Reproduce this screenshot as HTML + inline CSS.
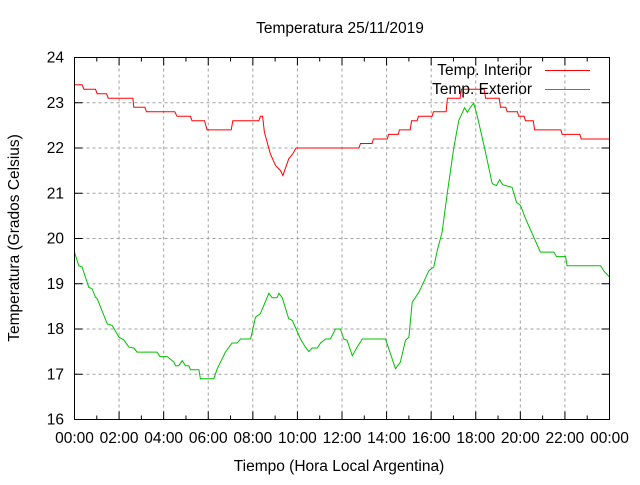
<!DOCTYPE html>
<html><head><meta charset="utf-8"><style>
body{margin:0;background:#fff;width:640px;height:480px;overflow:hidden}
svg text{font-family:"Liberation Sans",sans-serif;font-size:15.5px;fill:#000}
</style></head><body>
<svg id="chart" width="640" height="480" viewBox="0 0 640 480" xmlns="http://www.w3.org/2000/svg">
<text x="340" y="33" text-anchor="middle">Temperatura 25/11/2019</text>
<text x="339" y="471" text-anchor="middle">Tiempo (Hora Local Argentina)</text>
<text x="0" y="0" text-anchor="middle" transform="translate(19,238) rotate(-90)">Temperatura (Grados Celsius)</text>
<g id="grid"></g>
<g id="series"></g>
<rect x="74.5" y="57.5" width="535" height="362" fill="none" stroke="#000" stroke-width="1"/>
<g id="axes"></g>
<g>
<text x="532" y="75" text-anchor="end">Temp. Interior</text>
<line x1="545" y1="70.5" x2="590" y2="70.5" stroke="#ff0000"/>
<text x="532" y="94" text-anchor="end">Temp. Exterior</text>
<line x1="545" y1="89.5" x2="590" y2="89.5" stroke="#00c000"/>
</g>
</svg>
<script>
const xTickLabels=["00:00","02:00","04:00","06:00","08:00","10:00","12:00","14:00","16:00","18:00","20:00","22:00","00:00"];
const yTicks=[16,17,18,19,20,21,22,23,24];
const redHours=[0,0.34,0.42,0.94,1.02,1.44,1.51,2.62,2.66,3.16,3.23,4.5,4.6,5.2,5.27,5.83,5.95,7.03,7.1,8.27,8.34,8.44,8.52,8.79,9.02,9.24,9.35,9.61,9.79,9.94,12.76,12.83,13.35,13.41,14.03,14.09,14.52,14.58,15.06,15.12,15.37,15.43,16.04,16.1,16.67,16.73,17.3,17.36,18.38,18.44,19.05,19.11,19.35,19.41,19.87,19.93,20.17,20.23,20.58,20.64,21.82,21.88,22.67,22.73,24];
const redTemps=[23.4,23.4,23.3,23.3,23.2,23.2,23.1,23.1,22.9,22.9,22.8,22.8,22.7,22.7,22.6,22.6,22.4,22.4,22.6,22.6,22.7,22.7,22.35,21.87,21.61,21.5,21.39,21.76,21.87,22.0,22.0,22.1,22.1,22.2,22.2,22.3,22.3,22.4,22.4,22.6,22.6,22.7,22.7,22.8,22.8,23.1,23.1,23.3,23.3,23.1,23.1,22.9,22.9,22.8,22.8,22.7,22.7,22.6,22.6,22.4,22.4,22.3,22.3,22.2,22.2];
const greenHours=[0,0.19,0.34,0.64,0.79,0.94,1.02,1.47,1.69,1.99,2.21,2.44,2.66,2.81,3.71,3.83,4.16,4.46,4.53,4.68,4.83,4.98,5.13,5.2,5.58,5.65,6.25,6.4,6.77,7.07,7.3,7.45,7.9,8.12,8.34,8.72,8.87,9.09,9.17,9.32,9.61,9.77,10.14,10.36,10.51,10.66,10.89,11.04,11.26,11.48,11.71,11.93,12.08,12.23,12.46,12.68,12.91,13.95,14.4,14.62,14.85,15.0,15.15,15.45,15.9,16.12,16.27,16.49,16.72,17.02,17.24,17.5,17.62,17.76,17.91,18.06,18.39,18.74,18.93,19.07,19.21,19.63,19.83,20.01,20.23,20.9,21.5,21.62,22.03,22.1,23.6,23.75,23.94,24];
const greenTemps=[19.7,19.4,19.37,18.92,18.89,18.7,18.67,18.11,18.08,17.82,17.76,17.6,17.58,17.49,17.49,17.39,17.39,17.27,17.19,17.19,17.3,17.19,17.19,17.1,17.1,16.9,16.9,17.12,17.49,17.69,17.69,17.78,17.78,18.26,18.34,18.79,18.69,18.69,18.79,18.69,18.23,18.19,17.78,17.6,17.5,17.58,17.58,17.69,17.78,17.78,18.0,18.0,17.78,17.75,17.41,17.6,17.78,17.78,17.12,17.27,17.75,17.82,18.59,18.81,19.29,19.37,19.73,20.14,20.99,22.02,22.61,22.89,22.79,22.9,22.99,22.72,22.02,21.21,21.17,21.3,21.19,21.13,20.8,20.73,20.44,19.7,19.7,19.6,19.6,19.4,19.4,19.28,19.18,19.15];
const X0=74.5,X1=609.5,Y0=419.5,Y1=57.5;
function xs(h){return X0+(h/24)*(X1-X0);}
function ys(t){return Y0-(t-16)/8*(Y0-Y1);}
const NS="http://www.w3.org/2000/svg";
const grid=document.getElementById('grid'),axes=document.getElementById('axes'),series=document.getElementById('series');
function mk(tag,attrs,parent){const e=document.createElementNS(NS,tag);for(const k in attrs)e.setAttribute(k,attrs[k]);parent.appendChild(e);return e;}
yTicks.forEach((v,i)=>{
  const y=ys(v);
  if(i>0&&i<yTicks.length-1){const g=mk('line',{x1:X0,x2:X1,y1:y,y2:y,stroke:'#a0a0a0','stroke-dasharray':'3,3'},grid);
  
  }
  const t1=mk('line',{x1:X0,x2:X0+8,y1:y,y2:y,stroke:'#000'},axes);
  
  
  const t2=mk('line',{x1:X1-8,x2:X1,y1:y,y2:y,stroke:'#000'},axes);
  
  
  const tx=mk('text',{x:64,y:y+5,'text-anchor':'end'},axes);tx.textContent=v;
  
  
});
for(let h=0;h<=24;h++){
  const x=xs(h),major=h%2===0,len=major?8:4;
  if(major&&h>0&&h<24){const g=mk('line',{x1:x,x2:x,y1:Y0,y2:Y1,stroke:'#a0a0a0','stroke-dasharray':'3,3'},grid);
  
  }
  const t1=mk('line',{x1:x,x2:x,y1:Y0,y2:Y0-len,stroke:'#000'},axes);
  
  
  const t2=mk('line',{x1:x,x2:x,y1:Y1,y2:Y1+len,stroke:'#000'},axes);
  
  
}
xTickLabels.forEach((l,i)=>{
  const tx=mk('text',{x:xs(i*2),y:443,'text-anchor':'middle'},axes);tx.textContent=l;
  
  
});
function line(hs,ts,color,name){
  const d=hs.map((h,i)=>(i?'L':'M')+xs(h).toFixed(1)+','+ys(ts[i]).toFixed(1)).join('');
  const p=mk('path',{d:d,fill:'none',stroke:color,'stroke-width':1},series);
  
  
}
line(redHours,redTemps,'#ff0000','interior-temperature-line');
line(greenHours,greenTemps,'#00c000','exterior-temperature-line');
</script>
</body></html>
